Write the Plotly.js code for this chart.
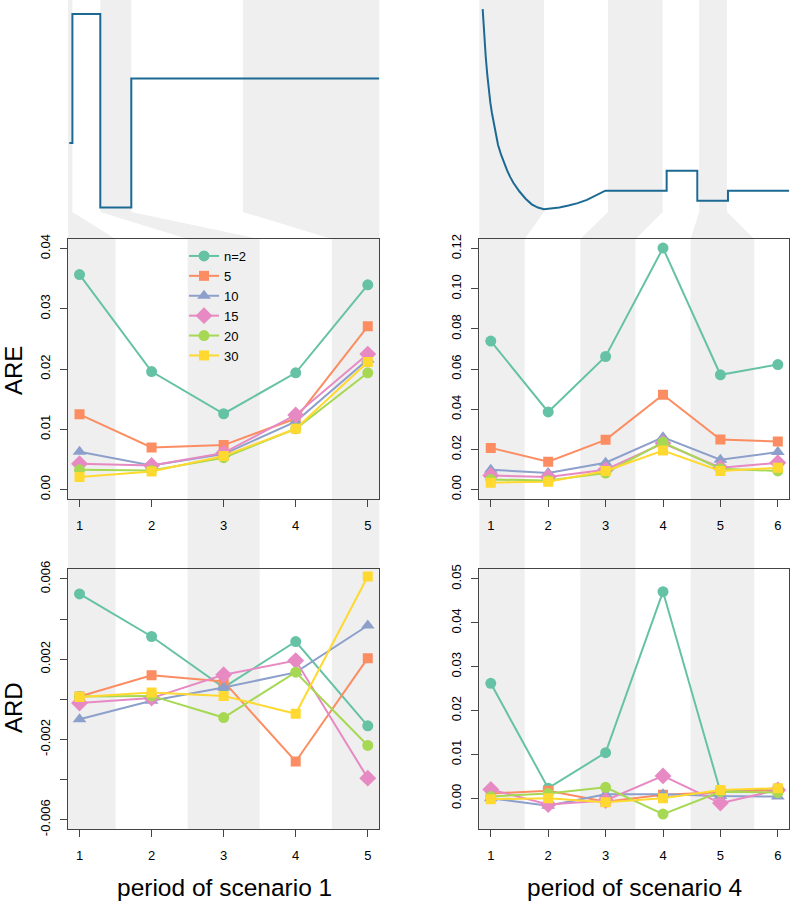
<!DOCTYPE html>
<html><head><meta charset="utf-8">
<script src="https://cdn.plot.ly/plotly-3.0.1.min.js"></script>
<style>html,body{margin:0;padding:0;background:#fff}#chart{width:792px;height:902px}</style>
</head><body><div id="chart"></div>
<script>
// ---------------- data ----------------
const seriesNames   = ["n=2", "5", "10", "15", "20", "30"];
const seriesColors  = ["#66C2A5", "#FC8D62", "#8DA0CB", "#E78AC3", "#A6D854", "#FFD92F"];
const seriesSymbols = ["circle", "square", "triangle-up", "diamond", "circle", "square"];
const seriesSizes   = [11, 10, 12, 13, 11, 10];

const periods1 = [1, 2, 3, 4, 5];
const periods4 = [1, 2, 3, 4, 5, 6];

// scenario curves (time, level)
const scen1Time  = [0, 1, 10, 20, 100];
const scen1Level = [1, 3, 0, 2, 2];
const scen4Time  = [0, 0.25, 0.5, 0.75, 1, 1.5, 2, 2.5, 3, 4, 5, 6, 7, 8, 9, 10, 12, 14, 16, 18, 20, 22, 25, 28, 31, 34, 37, 40, 60, 60, 70, 70, 80, 80, 100];
const scen4Level = [5.54, 5.2, 4.9, 4.62, 4.35, 3.9, 3.5, 3.2, 2.95, 2.5, 2.15, 1.9, 1.68, 1.5, 1.34, 1.2, 0.98, 0.8, 0.66, 0.58, 0.54, 0.55, 0.58, 0.63, 0.69, 0.77, 0.88, 1.0, 1.0, 1.5, 1.5, 0.75, 0.75, 1.0, 1.0];

// shaded periods: [start, end] in time (top) and in period axis units (below)
const bandsTime1   = [[-0.42, 1], [10, 20], [56, 100]];
const bandsPeriod1 = [[0.84, 1.5], [2.5, 3.5], [4.5, 5.16]];
const bandsTime4   = [[-1.1, 20], [40.9, 58.7], [70.6, 79.7]];
const bandsPeriod4 = [[0.8, 1.59], [2.56, 3.52], [4.48, 5.59]];

// ARE, scenario 1
const are1_n2  = [0.0357, 0.0196, 0.0126, 0.0194, 0.0340];
const are1_n5  = [0.0125, 0.0070, 0.0074, 0.0118, 0.0271];
const are1_n10 = [0.0063, 0.0040, 0.0059, 0.0113, 0.0216];
const are1_n15 = [0.0043, 0.0040, 0.0061, 0.0124, 0.0225];
const are1_n20 = [0.0033, 0.0032, 0.0053, 0.0101, 0.0194];
const are1_n30 = [0.0021, 0.0030, 0.0056, 0.0101, 0.0212];

// ARE, scenario 4
const are4_n2  = [0.0740, 0.0387, 0.0663, 0.1203, 0.0572, 0.0623];
const are4_n5  = [0.0208, 0.0139, 0.0248, 0.0473, 0.0250, 0.0240];
const are4_n10 = [0.0099, 0.0083, 0.0134, 0.0261, 0.0149, 0.0187];
const are4_n15 = [0.0071, 0.0063, 0.0099, 0.0231, 0.0109, 0.0134];
const are4_n20 = [0.0050, 0.0046, 0.0083, 0.0236, 0.0104, 0.0093];
const are4_n30 = [0.0035, 0.0040, 0.0093, 0.0195, 0.0093, 0.0109];

// ARD, scenario 1
const ard1_n2  = [0.00525, 0.00313, 0.00059, 0.00288, -0.00132];
const ard1_n5  = [0.00014, 0.00120, 0.00089, -0.00310, 0.00205];
const ard1_n10 = [-0.00099, -0.00007, 0.00059, 0.00134, 0.00368];
const ard1_n15 = [-0.00019, 0.00006, 0.00122, 0.00193, -0.00393];
const ard1_n20 = [0.00014, 0.00017, -0.00091, 0.00135, -0.00230];
const ard1_n30 = [0.00011, 0.00034, 0.00017, -0.00072, 0.00612];

// ARD, scenario 4
const ard4_n2  = [0.0262, 0.0023, 0.0104, 0.0471, 0.0015, 0.0023];
const ard4_n5  = [0.0011, 0.0017, -0.0008, 0.0008, 0.0014, 0.0019];
const ard4_n10 = [0.0000, -0.0017, 0.0009, 0.0009, 0.0005, 0.0004];
const ard4_n15 = [0.0020, -0.0014, -0.0005, 0.0051, -0.0011, 0.0019];
const ard4_n20 = [0.0004, 0.0011, 0.0025, -0.0036, 0.0015, 0.0013];
const ard4_n30 = [-0.0002, 0.0000, -0.0009, 0.0000, 0.0019, 0.0023];

const ard1TickVals = [-0.006, -0.004, -0.002, 0, 0.002, 0.004, 0.006];
const ard1TickText = ["-0.006", "", "-0.002", "", "0.002", "", "0.006"];

// ---------------- layout geometry ----------------
const W = 792, H = 902;
const FONT = "Liberation Sans, Arial, Helvetica, sans-serif";
const px = v => v / W;
const py = v => 1 - v / H;

const domLeft  = [px(68), px(379.3)];
const domRight = [px(479.3), px(789.3)];
const domTop   = [py(212), 1];
const domMid   = [py(499.3), py(239)];
const domBot   = [py(829.3), py(569.3)];

const rangeT1 = [-0.42, 100], rangeT4 = [-1.1, 100];
const rangeP1 = [0.84, 5.16], rangeP4 = [0.8, 6.2];

function toPaper(dom, rng, v) { return dom[0] + (v - rng[0]) / (rng[1] - rng[0]) * (dom[1] - dom[0]); }

const BAND = "#efefef";
const shapes = [];
function addBands(bTime, bPer, dom, rT, rP) {
  for (let i = 0; i < bTime.length; i++) {
    const xt0 = toPaper(dom, rT, bTime[i][0]), xt1 = toPaper(dom, rT, bTime[i][1]);
    const xb0 = toPaper(dom, rP, bPer[i][0]),  xb1 = toPaper(dom, rP, bPer[i][1]);
    const yTop = 1, yTB = domTop[0], yMT = domMid[1], yB = domBot[0];
    shapes.push({type: "path", xref: "paper", yref: "paper", layer: "below",
      fillcolor: BAND, line: {width: 0},
      path: `M ${xt0},${yTop} L ${xt1},${yTop} L ${xt1},${yTB} L ${xb1},${yMT} L ${xb1},${yB} L ${xb0},${yB} L ${xb0},${yMT} L ${xt0},${yTB} Z`});
  }
}
addBands(bandsTime1, bandsPeriod1, domLeft, rangeT1, rangeP1);
addBands(bandsTime4, bandsPeriod4, domRight, rangeT4, rangeP4);

// ---------------- traces ----------------
const traces = [];
const LINE_BLUE = "#1c6a93";
traces.push({x: scen1Time, y: scen1Level, xaxis: "x", yaxis: "y", mode: "lines", line: {color: LINE_BLUE, width: 2, shape: "hv"}, showlegend: false, hoverinfo: "skip"});
traces.push({x: scen4Time, y: scen4Level, xaxis: "x2", yaxis: "y2", mode: "lines", line: {color: LINE_BLUE, width: 2, shape: "linear"}, showlegend: false, hoverinfo: "skip"});

function addSet(xs, sets, xa, ya, legend) {
  sets.forEach((ys, i) => {
    traces.push({x: xs, y: ys, xaxis: xa, yaxis: ya, mode: "lines+markers", name: seriesNames[i],
      line: {color: seriesColors[i], width: 2},
      marker: {color: seriesColors[i], symbol: seriesSymbols[i], size: seriesSizes[i], line: {width: 0}},
      showlegend: legend, legendgroup: seriesNames[i]});
  });
}
addSet(periods1, [are1_n2, are1_n5, are1_n10, are1_n15, are1_n20, are1_n30], "x3", "y3", true);
addSet(periods4, [are4_n2, are4_n5, are4_n10, are4_n15, are4_n20, are4_n30], "x4", "y4", false);
addSet(periods1, [ard1_n2, ard1_n5, ard1_n10, ard1_n15, ard1_n20, ard1_n30], "x5", "y5", false);
addSet(periods4, [ard4_n2, ard4_n5, ard4_n10, ard4_n15, ard4_n20, ard4_n30], "x6", "y6", false);

// ---------------- axes ----------------
const axBase = {showline: true, mirror: true, linecolor: "#444", linewidth: 1, ticks: "outside", ticklen: 7,
  tickcolor: "#444", tickwidth: 1, showgrid: false, zeroline: false, fixedrange: true,
  tickfont: {family: FONT, size: 13, color: "#000"}};
const xBase = Object.assign({}, axBase, {ticklabelstandoff: 7});
const yBase = Object.assign({}, axBase, {tickangle: -90, ticklabelstandoff: 5});
const hidden = {visible: false, fixedrange: true, showgrid: false, zeroline: false};

const layout = {
  width: W, height: H, margin: {l: 0, r: 0, t: 0, b: 0},
  paper_bgcolor: "#ffffff", plot_bgcolor: "rgba(0,0,0,0)",
  font: {family: FONT, size: 12, color: "#111"},
  showlegend: true,
  legend: {x: px(184), y: py(241), xanchor: "left", yanchor: "top", bgcolor: "rgba(0,0,0,0)",
    borderwidth: 0, font: {family: FONT, size: 13, color: "#000"}, tracegroupgap: 0},
  xaxis:  Object.assign({}, hidden, {domain: domLeft, range: rangeT1, anchor: "y"}),
  yaxis:  Object.assign({}, hidden, {domain: domTop, range: [-0.07, 3.217], anchor: "x"}),
  xaxis2: Object.assign({}, hidden, {domain: domRight, range: rangeT4, anchor: "y2"}),
  yaxis2: Object.assign({}, hidden, {domain: domTop, range: [0.468, 5.768], anchor: "x2"}),
  xaxis3: Object.assign({}, xBase, {domain: domLeft, range: rangeP1, anchor: "y3", tickvals: periods1}),
  yaxis3: Object.assign({}, yBase, {domain: domMid, range: [-0.0016, 0.0416], anchor: "x3", tickvals: [0, 0.01, 0.02, 0.03, 0.04], tickformat: ".2f"}),
  xaxis4: Object.assign({}, xBase, {domain: domRight, range: rangeP4, anchor: "y4", tickvals: periods4}),
  yaxis4: Object.assign({}, yBase, {domain: domMid, range: [-0.0048, 0.1248], anchor: "x4", tickvals: [0, 0.02, 0.04, 0.06, 0.08, 0.10, 0.12], tickformat: ".2f"}),
  xaxis5: Object.assign({}, xBase, {domain: domLeft, range: rangeP1, anchor: "y5", tickvals: periods1}),
  yaxis5: Object.assign({}, yBase, {domain: domBot, range: [-0.00648, 0.00648], anchor: "x5", tickvals: ard1TickVals, ticktext: ard1TickText}),
  xaxis6: Object.assign({}, xBase, {domain: domRight, range: rangeP4, anchor: "y6", tickvals: periods4}),
  yaxis6: Object.assign({}, yBase, {domain: domBot, range: [-0.00707, 0.0522], anchor: "x6", tickvals: [0, 0.01, 0.02, 0.03, 0.04, 0.05], tickformat: ".2f"}),
  shapes: shapes,
  annotations: [
    {text: "ARE", xref: "paper", yref: "paper", x: px(13), y: py(371), textangle: -90, showarrow: false, xanchor: "center", yanchor: "middle", font: {family: FONT, size: 24, color: "#000"}},
    {text: "ARD", xref: "paper", yref: "paper", x: px(13), y: py(708), textangle: -90, showarrow: false, xanchor: "center", yanchor: "middle", font: {family: FONT, size: 24, color: "#000"}},
    {text: "period of scenario 1", xref: "paper", yref: "paper", x: px(224), y: py(887), showarrow: false, xanchor: "center", yanchor: "middle", font: {family: FONT, size: 24.5, color: "#000"}},
    {text: "period of scenario 4", xref: "paper", yref: "paper", x: px(634), y: py(887), showarrow: false, xanchor: "center", yanchor: "middle", font: {family: FONT, size: 24.5, color: "#000"}}
  ]
};

Plotly.newPlot("chart", traces, layout, {staticPlot: true, displayModeBar: false});
</script>
</body></html>
